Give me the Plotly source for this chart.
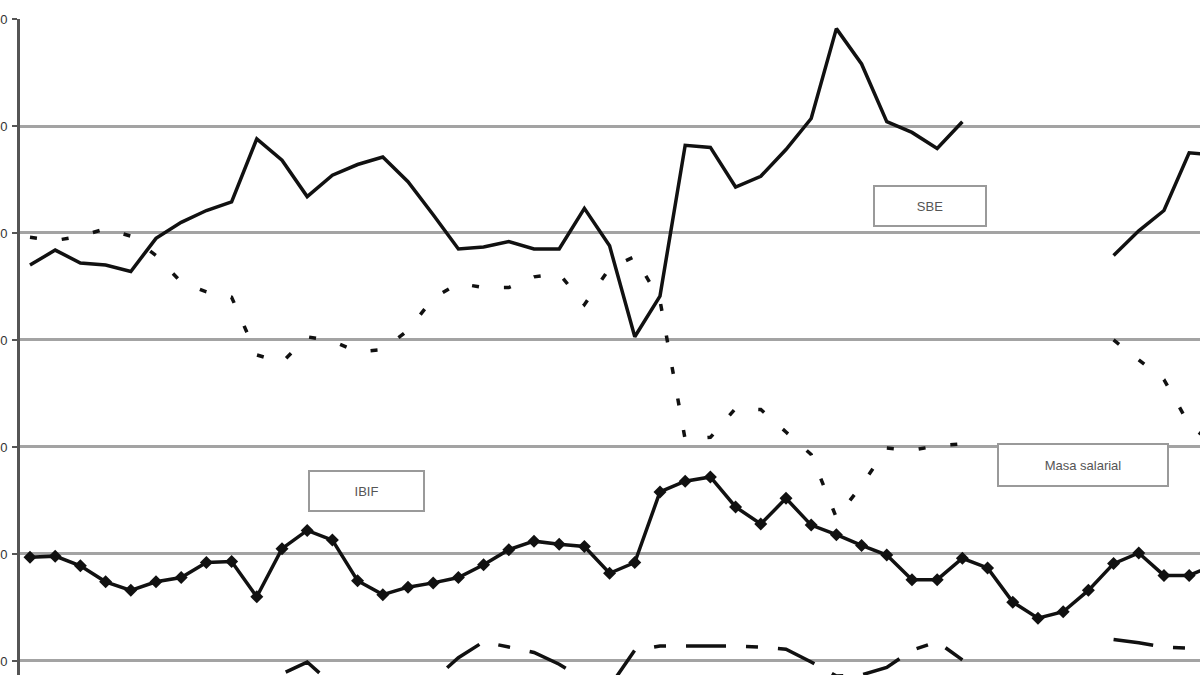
import plotly.graph_objects as go

# quarter index (the x-axis labels fall outside the visible crop)
periods = list(range(48))

sbe = [7.0, 8.4, 7.2, 7.0, 6.4, 9.5, 11.0, 12.1, 12.9, 18.8,
       16.8, 13.4, 15.4, 16.4, 17.1, 14.8, 11.7, 8.5, 8.7, 9.2,
       8.5, 8.5, 12.3, 8.8, 0.3, 4.1, 18.2, 18.0, 14.3, 15.3,
       17.8, 20.7, 29.1, 25.8, 20.4, 19.4, 17.9, 20.4, None, None,
       None, None, None, 7.9, 10.2, 12.1, 17.5, 17.3]

masa_salarial = [9.6, 9.3, 9.7, 10.4, 9.7, 7.9, 5.4, 4.5, 4.0, -1.4,
                 -2.1, 0.3, -0.1, -1.1, -0.9, 0.9, 3.9, 5.3, 4.9, 4.9,
                 5.9, 6.2, 3.3, 6.7, 7.8, 3.7, -9.3, -9.1, -6.4, -6.5,
                 -8.6, -10.7, -16.6, -13.6, -10.1, -10.3, -9.9, -9.7, None, None,
                 None, None, None, 0.0, -1.9, -3.7, -7.9, -9.8]

ibif = [-20.3, -20.2, -21.1, -22.6, -23.4, -22.6, -22.2, -20.8, -20.7, -24.0,
        -19.5, -17.8, -18.7, -22.5, -23.8, -23.1, -22.7, -22.2, -21.0, -19.6,
        -18.8, -19.1, -19.3, -21.8, -20.8, -14.2, -13.2, -12.8, -15.6, -17.2,
        -14.8, -17.3, -18.2, -19.2, -20.1, -22.4, -22.4, -20.4, -21.3, -24.5,
        -26.0, -25.4, -23.4, -20.9, -19.9, -22.0, -22.0, -21.0]

# fourth series, its label box lies below the crop
otra = [-34.0, -34.5, -35.0, -34.0, -33.5, -34.0, -35.0, -35.0, -34.0, -33.6,
        -31.2, -30.1, -32.2, -33.2, -33.6, -33.2, -31.8, -29.7, -28.2, -28.7,
        -29.2, -30.3, -31.8, -32.4, -29.0, -28.6, -28.6, -28.6, -28.6, -28.7,
        -28.9, -30.1, -31.4, -31.3, -30.6, -29.0, -28.2, -29.9, None, None,
        None, None, None, -28.0, -28.3, -28.7, -28.8, -28.9]

y_ticks = [-30, -20, -10, 0, 10, 20, 30]

fig = go.Figure()

fig.add_trace(go.Scatter(x=periods, y=sbe, mode='lines', name='SBE',
                         line=dict(color='#111111', width=3.5)))
fig.add_trace(go.Scatter(x=periods, y=masa_salarial, mode='lines', name='Masa salarial',
                         line=dict(color='#111111', width=3.5, dash='7px,25px')))
fig.add_trace(go.Scatter(x=periods, y=ibif, mode='lines+markers', name='IBIF',
                         line=dict(color='#111111', width=3.5),
                         marker=dict(symbol='diamond', size=10, color='#111111')))
fig.add_trace(go.Scatter(x=periods, y=otra, mode='lines', name='otra',
                         line=dict(color='#111111', width=3.5, dash='40px,20px,12px,20px')))


def box(label, cx, cy, w, h):
    # label boxes placed in pixel terms of the plot area (1180 x 656)
    return dict(text=label, xref='paper', yref='paper',
                x=(cx - 20) / 1180, y=1 - (cy - 19) / 656,
                xanchor='center', yanchor='middle', showarrow=False,
                width=w, height=h, bgcolor='white', bordercolor='#9a9a9a',
                borderwidth=2, borderpad=0,
                font=dict(family='Liberation Sans, Arial', size=13, color='#555555'))


fig.update_layout(
    width=1200, height=675,
    margin=dict(l=20, r=0, t=19, b=0, autoexpand=False),
    paper_bgcolor='white', plot_bgcolor='white',
    showlegend=False,
    annotations=[
        box('SBE', 930, 206, 110, 38),
        box('IBIF', 366, 491, 113, 38),
        box('Masa salarial', 1083, 465, 168, 40),
    ],
)

fig.update_xaxes(range=[-0.397, 46.43], showgrid=False, zeroline=False,
                 showticklabels=False, ticks='')
fig.update_yaxes(range=[-31.31, 30], tickvals=y_ticks, showgrid=True,
                 gridcolor='#a3a3a3', gridwidth=3, zeroline=False,
                 showline=True, linecolor='#555555', linewidth=3,
                 ticks='outside', ticklen=5, tickwidth=2, tickcolor='#555555',
                 ticklabelstandoff=2,
                 tickfont=dict(family='Liberation Sans, Arial', size=13, color='#333333'))

# drop the default body margin so the figure sits at the window corner
fig.write_html("out.html", config={'displayModeBar': False},
               post_script="document.body.style.margin='0';")
